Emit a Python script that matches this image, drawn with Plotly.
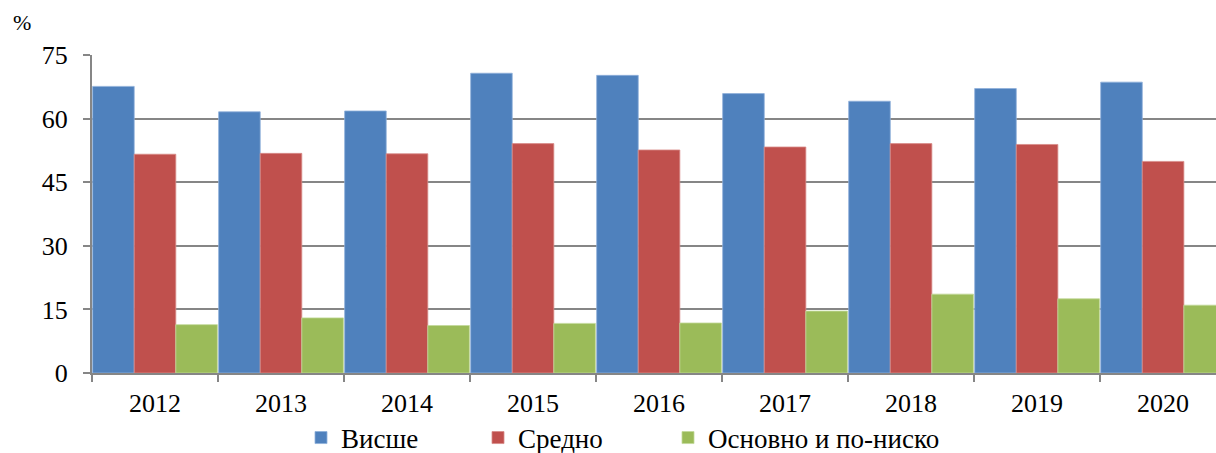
import plotly.graph_objects as go

years = ["2012", "2013", "2014", "2015", "2016", "2017", "2018", "2019", "2020"]
vishe = [67.6, 61.6, 61.8, 70.7, 70.2, 65.9, 64.1, 67.1, 68.6]
sredno = [51.6, 51.8, 51.7, 54.1, 52.6, 53.3, 54.1, 53.9, 49.9]
osnovno = [11.4, 13.0, 11.2, 11.7, 11.8, 14.6, 18.6, 17.5, 16.0]
y_ticks = [0, 15, 30, 45, 60, 75]

names = ["Висше", "Средно", "Основно и по-ниско"]
colors = ["#4F81BD", "#C0504D", "#9BBB59"]
edges = ["#8FB0DA", "#D88B89", "#C3D99A"]
legend_ids = ["legend", "legend2", "legend3"]
legend_px = [301, 478, 668]  # left pixel of each legend box

FONT = "Liberation Serif, Times New Roman, serif"
L, R, T, B = 92, 0, 55, 80
W, H = 1216, 453
PW = W - L - R
PH = H - T - B

fig = go.Figure()
for name, vals, c, e, lg in zip(names, [vishe, sredno, osnovno], colors, edges, legend_ids):
    fig.add_trace(go.Bar(
        x=years, y=vals, name=name, legend=lg,
        marker=dict(color=c, line=dict(color=e, width=0.8)),
    ))

legend_y = -(438 - (T + PH)) / PH
legends = {}
for lg, px in zip(legend_ids, legend_px):
    legends[lg] = dict(
        orientation="h", x=(px - L) / PW, xanchor="left", y=legend_y, yanchor="middle",
        font=dict(family=FONT, size=27, color="black"), itemwidth=30,
        bgcolor="rgba(0,0,0,0)",
    )

fig.update_layout(
    width=W, height=H,
    margin=dict(l=L, r=R, t=T, b=B, autoexpand=False),
    paper_bgcolor="white", plot_bgcolor="white",
    barmode="group", bargap=0.01, bargroupgap=0,
    font=dict(family=FONT, size=26, color="black"),
    showlegend=True,
    xaxis=dict(
        type="category", range=[-0.5, 8.42], automargin=False,
        showline=True, linecolor="#868686", linewidth=2,
        ticks="outside", tickson="boundaries", ticklen=7, tickcolor="#868686", tickwidth=2,
        ticklabelstandoff=6,
        showgrid=False, tickfont=dict(family=FONT, size=26, color="black"),
    ),
    yaxis=dict(
        range=[0, 75], tickvals=y_ticks, automargin=False,
        showline=True, linecolor="#868686", linewidth=2,
        ticks="outside", ticklen=7, tickcolor="#868686", tickwidth=2,
        ticklabelstandoff=10,
        showgrid=True, gridcolor="#868686", gridwidth=2,
        zeroline=False, tickfont=dict(family=FONT, size=26, color="black"),
    ),
    annotations=[dict(text="%", xref="paper", yref="paper", x=(22 - L) / PW, y=1.0, xanchor="center",
                      yanchor="middle", yshift=55 - 22, showarrow=False,
                      font=dict(family=FONT, size=22, color="black"))],
    **legends,
)

fig.write_html("out.html", config={"displayModeBar": False},
               post_script="document.body.style.margin='0';")
